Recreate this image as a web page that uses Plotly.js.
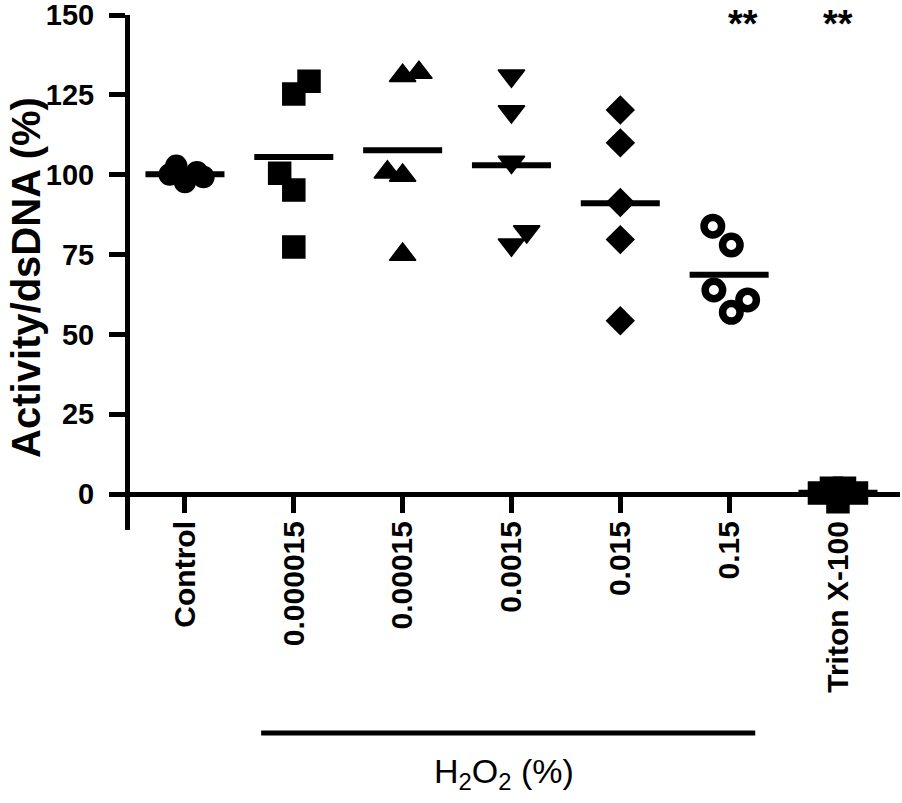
<!DOCTYPE html>
<html>
<head>
<meta charset="utf-8">
<script src="https://cdn.plot.ly/plotly-3.0.1.min.js"></script>
<style>
  html, body { margin: 0; padding: 0; background: #ffffff; }
  #chart { width: 902px; height: 803px; }
</style>
</head>
<body>
<div id="chart"></div>
<script>
// ---- data ----
const categories = ['Control', '0.000015', '0.00015', '0.0015', '0.015', '0.15', 'Triton X-100'];
const yTicks = [0, 25, 50, 75, 100, 125, 150];

const controlValues = [100.1, 102.8, 97.7, 100.8, 99.3];
const h2o2_000015Values = [129.3, 125.3, 100.5, 95.2, 77.4];
const h2o2_00015Values = [132.0, 131.0, 100.8, 99.8, 75.0];
const h2o2_0015Values = [131.0, 119.8, 104.0, 82.2, 78.1];
const h2o2_015Values = [120.3, 110.0, 91.3, 79.7, 54.3];
const h2o2_15Values = [83.9, 78.0, 63.9, 60.8, 56.9];
const tritonValues = [0.3, 1.8, -2.4, 1.8, 0.3];

// horizontal spread of overlapping points (category units), as seen in the picture
const controlJitter = [-0.14, -0.08, 0.0, 0.11, 0.17];
const h2o2_000015Jitter = [0.14, 0.0, -0.13, 0.0, 0.0];
const h2o2_00015Jitter = [0.15, 0.0, -0.14, 0.0, 0.0];
const h2o2_0015Jitter = [0.0, 0.0, 0.0, 0.14, 0.0];
const h2o2_015Jitter = [0.0, 0.0, 0.0, 0.0, 0.0];
const h2o2_15Jitter = [-0.15, 0.02, -0.14, 0.17, 0.02];
const tritonJitter = [-0.17, -0.06, 0.0, 0.06, 0.17];

const significance = ['', '', '', '', '', '**', '**'];

// ---- build traces ----
const FONT = 'Liberation Sans, Arial, Helvetica, sans-serif';
const groups = [
  { v: controlValues, j: controlJitter, symbol: 'circle', size: 21 },
  { v: h2o2_000015Values, j: h2o2_000015Jitter, symbol: 'square', size: 22 },
  { v: h2o2_00015Values, j: h2o2_00015Jitter, symbol: 'triangle-up', size: 23 },
  { v: h2o2_0015Values, j: h2o2_0015Jitter, symbol: 'triangle-down', size: 23 },
  { v: h2o2_015Values, j: h2o2_015Jitter, symbol: 'diamond', size: 21 },
  { v: h2o2_15Values, j: h2o2_15Jitter, symbol: 'circle-open', size: 17.5, open: true },
  { v: tritonValues, j: tritonJitter, symbol: 'square', size: 22 }
];

const traces = [];
groups.forEach((g, i) => {
  traces.push({
    type: 'scatter',
    mode: 'markers',
    x: g.v.map((_, k) => i + g.j[k]),
    y: g.v,
    cliponaxis: false,
    showlegend: false,
    hoverinfo: 'skip',
    marker: {
      symbol: g.symbol,
      size: g.size,
      color: '#000000',
      line: g.open ? { color: '#000000', width: 7.5 } : { color: '#000000', width: 1.5 }
    }
  });
});

// mean lines
const meanX = [], meanY = [];
groups.forEach((g, i) => {
  const m = g.v.reduce((a, b) => a + b, 0) / g.v.length;
  meanX.push(i - 0.363, i + 0.363, null);
  meanY.push(m, m, null);
});
traces.push({
  type: 'scatter', mode: 'lines', x: meanX, y: meanY,
  line: { color: '#000000', width: 6 }, cliponaxis: false,
  showlegend: false, hoverinfo: 'skip'
});

const yMin = -11.27, yMax = 150.05;
const annotations = [];
significance.forEach((s, i) => {
  if (!s) return;
  annotations.push({
    x: i === 5 ? i + 0.13 : i, y: 1.027, xref: 'x', yref: 'paper',
    text: s, showarrow: false, xanchor: 'center', yanchor: 'top',
    font: { family: FONT, size: 38, weight: 'bold', color: '#000000' }
  });
});
annotations.push({
  x: -0.136, y: 0.49, xref: 'paper', yref: 'paper',
  text: 'Activity/dsDNA (%)', textangle: -90, showarrow: false,
  xanchor: 'center', yanchor: 'middle',
  font: { family: FONT, size: 40, weight: 'bold', color: '#000000' }
});
annotations.push({
  x: 2.93, y: -0.472, xref: 'x', yref: 'paper',
  text: 'H<sub>2</sub>O<sub>2</sub> (%)', showarrow: false,
  xanchor: 'center', yanchor: 'middle',
  font: { family: FONT, size: 34, color: '#000000' }
});

const layout = {
  width: 902, height: 803,
  margin: { l: 130, r: 2, t: 15, b: 273, pad: 0 },
  paper_bgcolor: '#ffffff', plot_bgcolor: '#ffffff',
  showlegend: false,
  xaxis: {
    range: [-0.505, 6.57],
    tickmode: 'array', tickvals: categories.map((_, i) => i), ticktext: categories,
    tickangle: -90,
    ticks: 'outside', ticklen: 16, tickwidth: 5, tickcolor: '#000000',
    showline: true, linewidth: 5, linecolor: '#000000',
    showgrid: false, zeroline: false,
    anchor: 'free', position: (0 - yMin) / (yMax - yMin),
    ticklabelstandoff: -4,
    ticklabeloverflow: 'allow',
    tickfont: { family: FONT, size: 30, weight: 'bold', color: '#000000' }
  },
  yaxis: {
    range: [yMin, yMax],
    tickmode: 'array', tickvals: yTicks, ticktext: yTicks.map(String),
    ticks: 'outside', ticklen: 16, tickwidth: 5, tickcolor: '#000000',
    showline: true, linewidth: 5, linecolor: '#000000',
    showgrid: false, zeroline: false,
    ticklabelstandoff: 9,
    ticklabeloverflow: 'allow',
    tickfont: { family: FONT, size: 29, weight: 'bold', color: '#000000' }
  },
  shapes: [{
    type: 'line', xref: 'x', yref: 'paper',
    x0: 0.70, x1: 5.24, y0: -0.394, y1: -0.394,
    line: { color: '#000000', width: 5 }
  }],
  annotations: annotations
};

Plotly.newPlot('chart', traces, layout, { displayModeBar: false, staticPlot: true });
</script>
</body>
</html>
